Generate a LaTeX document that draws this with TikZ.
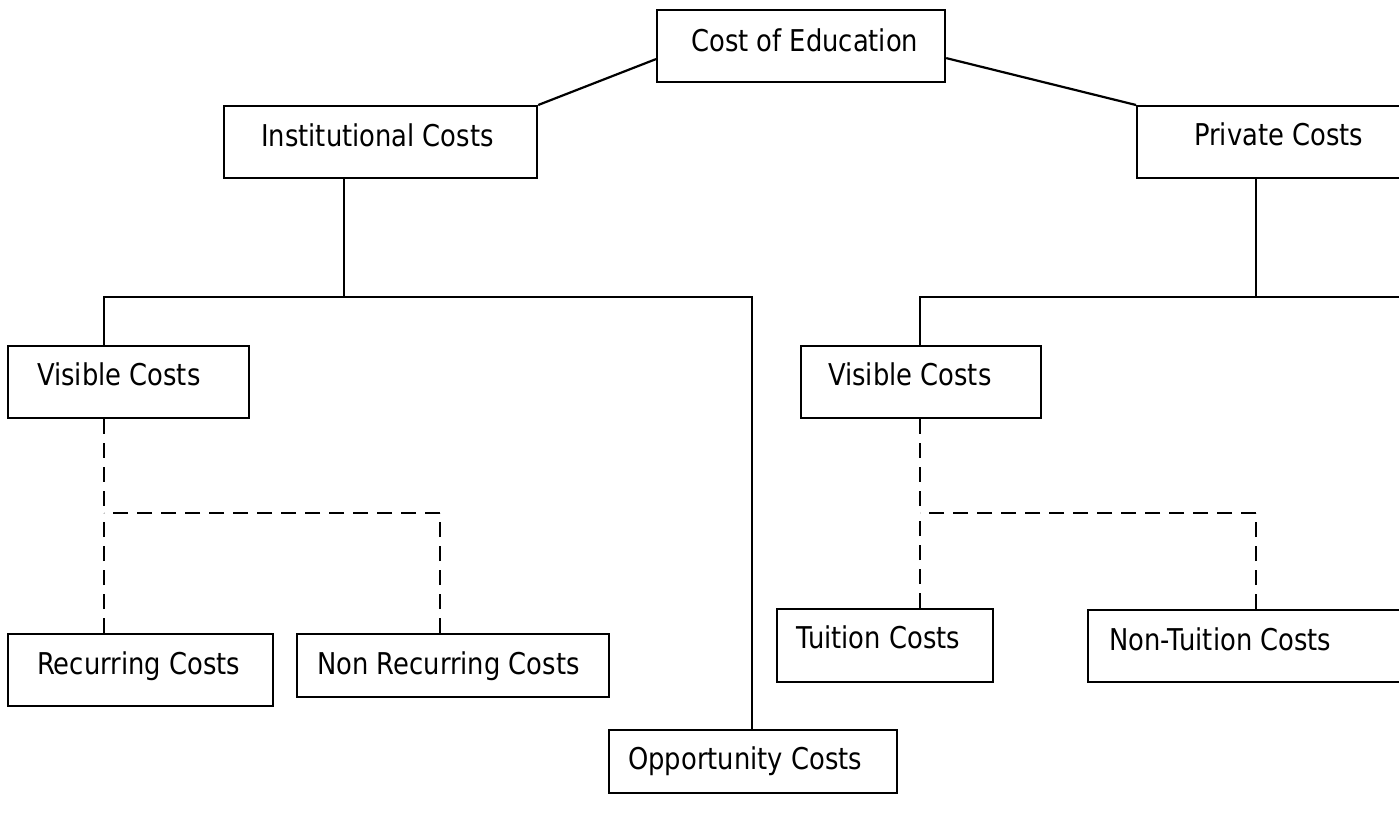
\documentclass[tikz,border=0pt]{standalone}
\usepackage{fontspec}
\setmainfont[FakeStretch=0.86]{DejaVu Sans}
\begin{document}
\begin{tikzpicture}[x=1pt,y=1pt,
  box/.style={draw=black, line width=2.2pt, fill=white, inner sep=0pt, anchor=north west},
  lbl/.style={anchor=base west, inner sep=0pt, font=\fontsize{30}{36}\selectfont},
  conn/.style={line width=2.2pt},
  dconn/.style={line width=2.2pt, dash pattern=on 15pt off 9pt}]
\useasboundingbox (0,0) rectangle (1399,-827);
\clip (0,0) rectangle (1399,-827);
\fill[white] (0,0) rectangle (1399,-827);

% boxes
\node[box, minimum width=288, minimum height=72] (ce) at (656,-9) {};
\node[box, minimum width=313, minimum height=72] (ic) at (223,-105) {};
\node[box, minimum width=290, minimum height=72] (pc) at (1136,-105) {};
\node[box, minimum width=241, minimum height=72] (vl) at (7,-345) {};
\node[box, minimum width=240, minimum height=72] (vr) at (800,-345) {};
\node[box, minimum width=265, minimum height=72] (rc) at (7,-633) {};
\node[box, minimum width=312, minimum height=63] (nr) at (296,-633) {};
\node[box, minimum width=216, minimum height=73] (tc) at (776,-608) {};
\node[box, minimum width=330, minimum height=72] (nt) at (1087,-609) {};
\node[box, minimum width=288, minimum height=63] (oc) at (608,-729) {};

% labels
\node[lbl] (tce) at (691,-51) {Cost of Education};
\node[lbl] (tic) at (261,-146) {Institutional Costs};
\node[lbl] (tpc) at (1194,-145) {Private Costs};
\node[lbl] (tvl) at (37,-385) {Visible Costs};
\node[lbl] (tvr) at (828,-385) {Visible Costs};
\node[lbl] (trc) at (37,-674) {Recurring Costs};
\node[lbl] (tnr) at (317,-674) {Non Recurring Costs};
\node[lbl] (ttc) at (796,-648) {Tuition Costs};
\node[lbl] (tnt) at (1109,-650) {Non-Tuition Costs};
\node[lbl] (toc) at (628,-769) {Opportunity Costs};

% junction coordinates
\coordinate (iJ) at (344,-297);
\coordinate (iL) at (104,-297);
\coordinate (iR) at (752,-297);
\coordinate (pJ) at (1256,-297);
\coordinate (pL) at (920,-297);
\coordinate (pR) at (1420,-297);
\coordinate (dL) at (104,-513);
\coordinate (dR) at (440,-513);
\coordinate (eL) at (920,-513);
\coordinate (eR) at (1256,-513);

% connectors
\draw[conn] ([yshift=-13]ce.west) -- (ic.north east);
\draw[conn] ([yshift=-12]ce.east) -- (pc.north west);
\draw[conn] (ic.south -| iJ) -- (iJ);
\draw[conn] (vl.north -| iL) -- (iL) -- (iR) -- (oc.north -| iR);
\draw[conn] (pc.south -| pJ) -- (pJ);
\draw[conn] (vr.north -| pL) -- (pL) -- (pR);
\draw[dconn] (vl.south -| dL) -- (dL);
\draw[dconn] (dR) -- (dL);
\draw[dconn] (nr.north -| dR) -- (dR);
\draw[dconn] (rc.north -| dL) -- (dL);
\draw[dconn] (vr.south -| eL) -- (eL);
\draw[dconn] (eR) -- (eL);
\draw[dconn] (nt.north -| eR) -- (eR);
\draw[dconn] (tc.north -| eL) -- (eL);
\end{tikzpicture}
\end{document}
